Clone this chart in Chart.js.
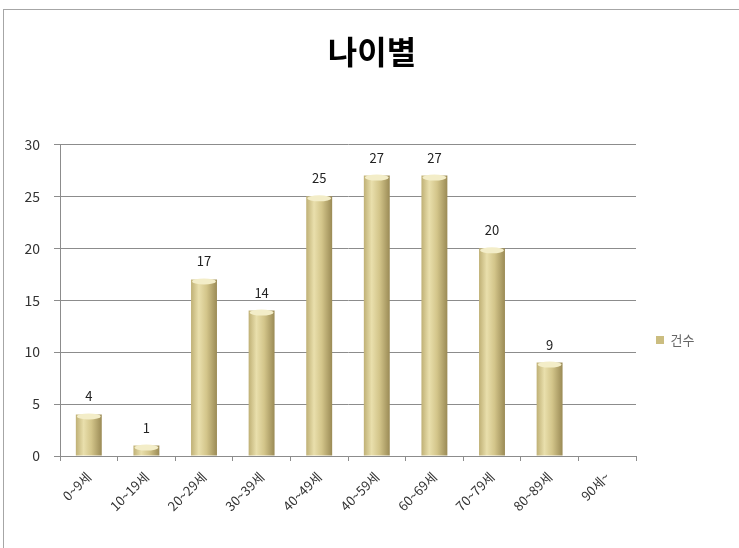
<!DOCTYPE html>
<html>
<head>
<meta charset="utf-8">
<script src="https://cdn.jsdelivr.net/npm/chart.js@4"></script>
<style>
  body { margin: 0; background: #fff; }
  #box { position: absolute; left: 3px; top: 9px; width: 740px; height: 545px; border: 1px solid #a6a6a6; background: #fff; }
  canvas { display: block; }
</style>
</head>
<body>
<div id="box"><canvas id="chart" width="736" height="538"></canvas></div>
<script>
const categories = ["0~9세", "10~19세", "20~29세", "30~39세", "40~49세", "40~59세", "60~69세", "70~79세", "80~89세", "90세~"];
const counts = [4, 1, 17, 14, 25, 27, 27, 20, 9, null];
const yTicks = [0, 5, 10, 15, 20, 25, 30];

const font = "'Noto Sans CJK KR', 'Noto Sans', sans-serif";
const legendWidth = 104;

function barFill(ctx) {
    const chart = ctx.chart;
    if (!chart.chartArea) return "#cfc184";
    const x = chart.scales.x.getPixelForValue(ctx.dataIndex);
    const g = chart.ctx.createLinearGradient(x - 13, 0, x + 13, 0);
    g.addColorStop(0, "#bfb075");
    g.addColorStop(0.3, "#e9dfac");
    g.addColorStop(0.6, "#d3c58a");
    g.addColorStop(1, "#9a8a55");
    return g;
}

// light cap on top of each bar + value labels
const barExtras = {
    id: "barExtras",
    afterDatasetsDraw(chart) {
        const ctx = chart.ctx;
        const meta = chart.getDatasetMeta(0);
        meta.data.forEach((bar, i) => {
            const v = counts[i];
            if (v == null) return;
            const w = bar.width;
            ctx.save();
            ctx.fillStyle = "#f3edc8";
            ctx.beginPath();
            ctx.ellipse(bar.x, bar.y + 2, w / 2 - 1, 3, 0, 0, Math.PI * 2);
            ctx.fill();
            ctx.fillStyle = "#222";
            ctx.font = "13px " + font;
            ctx.textAlign = "center";
            ctx.textBaseline = "alphabetic";
            ctx.fillText(String(v), bar.x, bar.y - 13);
            ctx.restore();
        });
    }
};

const chart1 = document.getElementById("chart");
const c1 = new Chart(chart1, {
    type: "bar",
    data: {
        labels: categories,
        datasets: [{
            label: "건수",
            data: counts,
            backgroundColor: barFill,
            borderWidth: 0,
            barPercentage: 0.45,
            categoryPercentage: 1
        }]
    },
    options: {
        responsive: false,
        animation: false,
        layout: { padding: 0 },
        plugins: {
            title: {
                display: true,
                text: "나이별",
                color: "#000",
                font: { family: font, size: 32, weight: "bold" },
                padding: { top: 23, bottom: 73 }
            },
            legend: {
                position: "right",
                fullSize: false,
                align: "start",
                title: { display: true, text: " ", font: { size: 1 }, padding: { top: 168, bottom: 0 } },
                labels: {
                    color: "#333",
                    font: { family: font, size: 13 },
                    boxWidth: 8,
                    boxHeight: 8,
                    padding: 20,
                    generateLabels: () => [{
                        text: "건수",
                        fillStyle: "#cbbd80",
                        strokeStyle: "#a8985e",
                        lineWidth: 0,
                        hidden: false,
                        datasetIndex: 0
                    }]
                }
            },
            tooltip: { enabled: false }
        },
        scales: {
            x: {
                grid: { drawOnChartArea: false, drawTicks: true, tickLength: 5, color: "#8c8c8c", offset: true },
                border: { color: "#8c8c8c" },
                ticks: {
                    color: "#333",
                    font: { family: font, size: 13 },
                    minRotation: 45,
                    maxRotation: 45,
                    padding: 8
                },
                afterFit(scale) { scale.height = 92; }
            },
            y: {
                min: 0,
                max: 30,
                afterBuildTicks(scale) { scale.ticks = yTicks.map(v => ({ value: v })); },
                grid: { color: "#8c8c8c", tickLength: 6 },
                border: { color: "#8c8c8c" },
                ticks: {
                    color: "#333",
                    font: { family: font, size: 14 },
                    padding: 14
                },
                afterFit(scale) { scale.width = 56; }
            }
        }
    },
    plugins: [barExtras]
});

// give the legend a fixed column width so the plot ends where the original does
const fitLegend = c1.legend.fit.bind(c1.legend);
c1.legend.fit = function () {
    fitLegend();
    this.width = legendWidth;
};
c1.update();
</script>
</body>
</html>
